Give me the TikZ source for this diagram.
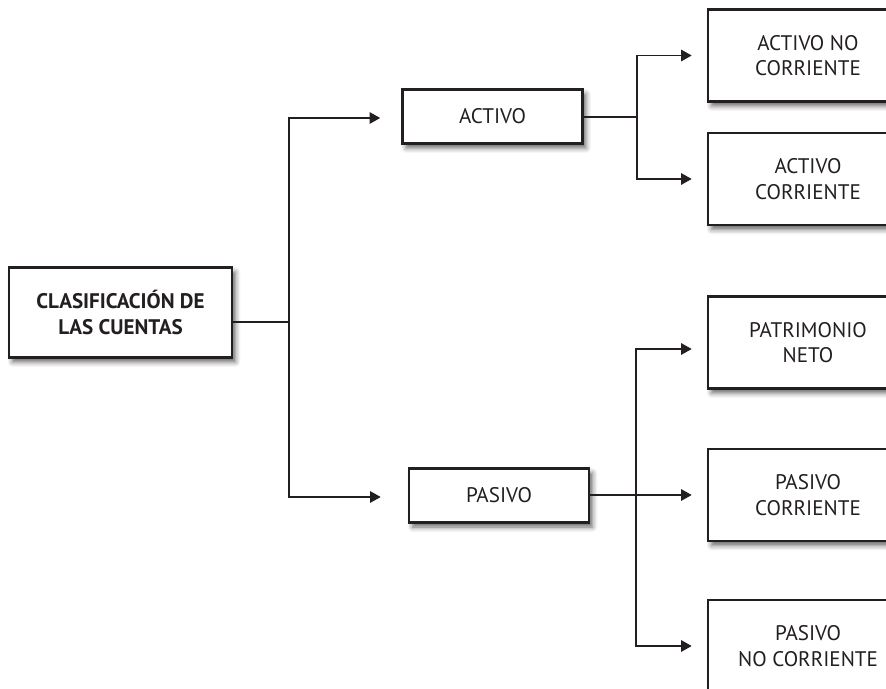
\documentclass[tikz,border=0pt]{standalone}
\usepackage{fontspec}
\setmainfont{PT Sans}
\usetikzlibrary{arrows.meta, shadows.blur, calc}
\definecolor{ink}{RGB}{35,31,32}
\tikzset{
  box/.style={draw=ink, line width=1.5pt, fill=white, align=center, text=ink,
    font=\fontsize{12}{14.5}\selectfont, inner sep=2pt,
    blur shadow={shadow xshift=0.07cm, shadow yshift=-0.09cm,
      shadow blur radius=0.1cm, shadow opacity=60}},
  leafbox/.style={box, minimum width=4cm, minimum height=1.84cm},
  midbox/.style={box, minimum width=3.6cm, minimum height=1.08cm},
  link/.style={draw=ink, line width=0.85pt},
  arr/.style={link, -{Triangle[length=6pt, width=6.5pt]}}
}

\begin{document}
\begin{tikzpicture}[x=0.02cm, y=-0.02cm]
    \useasboundingbox (0,0) rectangle (886,689);
    \clip (0,0) rectangle (886,689);

    % root
    \node[box, minimum width=4.46cm, minimum height=1.8cm,
          font=\fontsize{12}{15}\selectfont\bfseries] (root) at (120.5,312.5)
          {CLASIFICACIÓN DE\\LAS CUENTAS};

    % second level
    \node[midbox] (act) at (492.5,116.5) {ACTIVO};
    \node[midbox] (pas) at (499,495.5) {PASIVO};

    % leaves
    \node[leafbox] (anc) at (808,55.5) {ACTIVO NO\\CORRIENTE};
    \node[leafbox] (ac)  at (808,179)  {ACTIVO\\CORRIENTE};
    \node[leafbox] (pn)  at (808,342.5) {PATRIMONIO\\NETO};
    \node[leafbox] (pc)  at (808,495)  {PASIVO\\CORRIENTE};
    \node[leafbox] (pnc) at (808,646)  {PASIVO\\NO CORRIENTE};

    % split points
    \coordinate (split) at (289,322);
    \coordinate (splitA) at (637,117);
    \coordinate (splitP) at (636,495);

    % root to activo / pasivo
    \draw[link] (root.east |- split) -- (split);
    \draw[arr, shorten >=0.42cm] (split) |- ([yshift=-0.03cm]act.west);
    \draw[arr, shorten >=0.54cm] (split) |- ([yshift=-0.03cm]pas.west);

    % activo branches
    \draw[link] (act.east |- splitA) -- (splitA);
    \draw[arr, shorten >=0.3cm] (splitA) |- (anc.west);
    \draw[arr, shorten >=0.3cm] (splitA) |- (ac.west);

    % pasivo branches
    \draw[arr, shorten >=0.3cm] (pas.east |- splitP) -- (pc.west);
    \draw[arr, shorten >=0.3cm] (splitP) |- ([yshift=-0.13cm]pn.west);
    \draw[arr, shorten >=0.3cm] (splitP) |- (pnc.west);
\end{tikzpicture}
\end{document}
